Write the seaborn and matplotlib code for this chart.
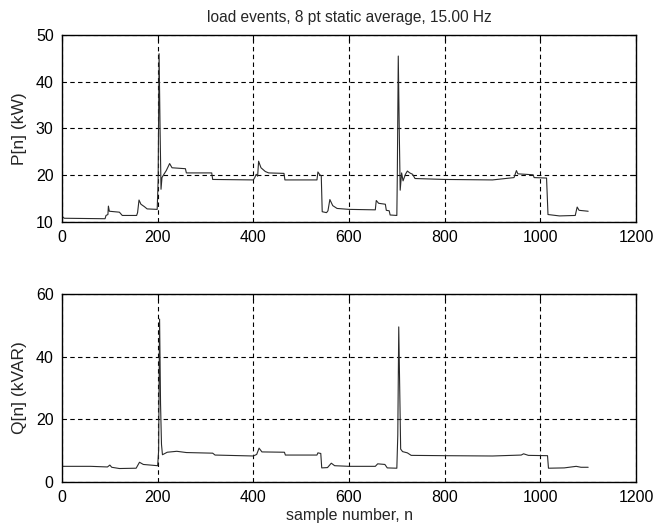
import matplotlib
matplotlib.use("Agg")
import matplotlib.pyplot as plt
import seaborn as sns
import pandas as pd

# ---- data ----
n_P = [0, 2, 5, 90, 92, 96, 97, 99, 120, 126, 156, 158, 161, 165, 172, 178, 199,
       201, 203, 205, 207, 209, 213, 218, 225, 230, 258, 260, 313, 315, 400, 403,
       406, 409, 411, 416, 425, 432, 464, 466, 533, 535, 539, 542, 544, 553, 556,
       560, 566, 575, 600, 655, 657, 662, 676, 678, 684, 686, 700, 701, 703, 705,
       707, 710, 713, 718, 722, 727, 733, 738, 800, 900, 945, 950, 953, 985, 987,
       1013, 1016, 1040, 1073, 1077, 1081, 1100]
P_kW = [11.5, 11.0, 10.8, 10.7, 11.4, 11.6, 13.4, 12.3, 12.1, 11.4, 11.4, 12.0,
        14.7, 13.8, 13.3, 12.8, 12.7, 19.0, 46.0, 30.0, 17.0, 19.5, 20.2, 21.0,
        22.5, 21.6, 21.4, 20.5, 20.5, 19.1, 19.0, 19.5, 20.2, 19.8, 23.0, 21.6,
        20.8, 20.5, 20.4, 19.0, 19.0, 20.7, 20.1, 19.9, 12.2, 12.0, 12.4, 14.8,
        13.5, 12.9, 12.7, 12.6, 14.6, 14.0, 13.8, 12.5, 12.4, 11.5, 11.4, 20.0,
        45.5, 30.0, 16.8, 20.5, 18.8, 20.2, 20.9, 20.5, 20.2, 19.3, 19.1, 19.0,
        19.5, 21.0, 20.3, 20.1, 19.5, 19.4, 11.6, 11.3, 11.4, 13.2, 12.5, 12.3]

n_Q = [0, 60, 95, 100, 104, 120, 155, 162, 170, 200, 202, 204, 206, 208, 210,
       220, 240, 260, 315, 320, 400, 407, 412, 418, 465, 467, 533, 535, 541, 543,
       555, 563, 570, 600, 655, 660, 675, 680, 700, 702, 704, 706, 708, 712, 722,
       730, 800, 900, 960, 965, 975, 1015, 1017, 1050, 1075, 1085, 1100]
Q_kVAR = [5.0, 5.0, 4.8, 5.4, 4.7, 4.3, 4.4, 6.3, 5.6, 5.2, 10.0, 52.0, 25.0,
          12.0, 8.7, 9.5, 9.8, 9.4, 9.2, 8.6, 8.3, 8.8, 10.8, 9.6, 9.5, 8.6, 8.6,
          9.3, 9.1, 4.5, 4.6, 6.0, 5.2, 5.0, 5.0, 5.8, 5.6, 4.5, 4.4, 15.0, 49.5,
          30.0, 10.5, 9.7, 9.3, 8.5, 8.4, 8.3, 8.6, 9.0, 8.5, 8.4, 4.4, 4.5, 5.0,
          4.7, 4.7]

x_ticks = [0, 200, 400, 600, 800, 1000, 1200]
p_ticks = [10, 20, 30, 40, 50]
q_ticks = [0, 20, 40, 60]

title = "load events, 8 pt static average, 15.00 Hz"

sns.set_theme(style="white")
plt.rcParams['font.family'] = ['Liberation Sans', 'DejaVu Sans']

dfP = pd.DataFrame({"n": n_P, "P": P_kW})
dfQ = pd.DataFrame({"n": n_Q, "Q": Q_kVAR})

fig = plt.figure(figsize=(6.56, 5.31), dpi=100)
ax1 = fig.add_axes([62 / 656, 1 - 222 / 531, 574 / 656, 187 / 531])
ax2 = fig.add_axes([62 / 656, 1 - 482 / 531, 574 / 656, 188 / 531])

sns.lineplot(data=dfP, x="n", y="P", ax=ax1, sort=False, estimator=None,
             color="#2a2a2a", linewidth=0.8)
sns.lineplot(data=dfQ, x="n", y="Q", ax=ax2, sort=False, estimator=None,
             color="#2a2a2a", linewidth=0.8)

for ax, yt in ((ax1, p_ticks), (ax2, q_ticks)):
    ax.set_xlim(x_ticks[0], x_ticks[-1])
    ax.set_ylim(yt[0], yt[-1])
    ax.set_xticks(x_ticks)
    ax.set_yticks(yt)
    ax.grid(True, color="black", linestyle=(0, (4, 3)), linewidth=0.8)
    ax.set_axisbelow(True)
    for s in ax.spines.values():
        s.set_color("black")
        s.set_linewidth(1.0)
    ax.tick_params(direction="in", length=4, width=0.8, colors="black",
                   labelsize=11.5, top=True, right=True, pad=6)

ax1.set_xlabel("")
ax1.set_ylabel("P[n] (kW)", fontsize=12.5, labelpad=6)
ax2.set_ylabel("Q[n] (kVAR)", fontsize=12.5, labelpad=6)
ax2.set_xlabel("sample number, n", fontsize=11.5, labelpad=2)
ax1.set_title(title, fontsize=11.2, pad=9)

fig.savefig("out.png", dpi=100)
